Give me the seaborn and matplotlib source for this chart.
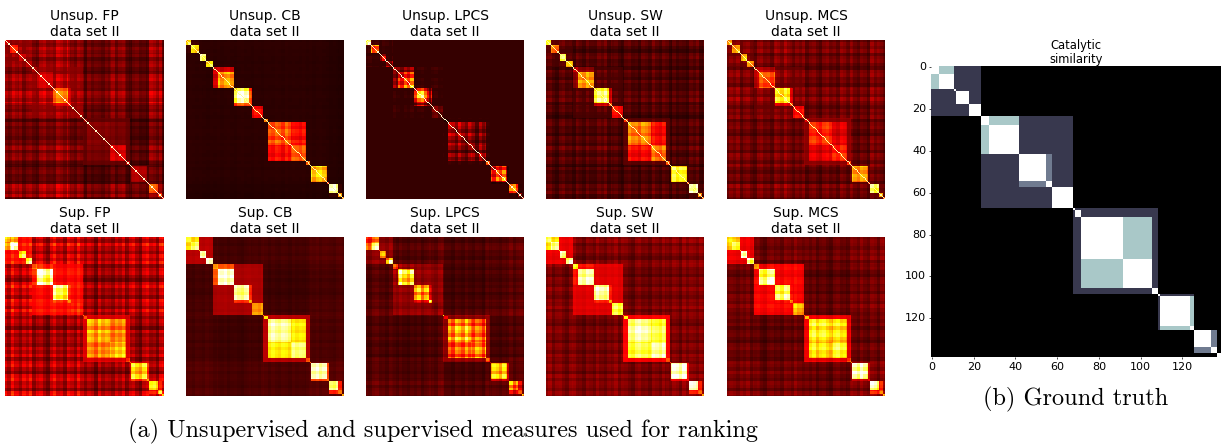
import numpy as np
import matplotlib
matplotlib.use("Agg")
import matplotlib.pyplot as plt
import seaborn as sns

# cluster sizes along the 139 enzymes
seg_sizes = [4, 7, 1, 6, 6, 4, 14, 13, 3, 10, 1, 3, 20, 14, 3, 1, 14, 2, 8, 3, 2]
seg_family = [0, 0, 0, 0, 0, 1, 1, 1, 1, 1, 2, 2, 2, 2, 2, 3, 3, 3, 4, 4, -1]
seg_pair = [0, 0, -1, -1, -1, 1, 1, 2, 2, -1, -1, -1, 3, 3, -1, -1, 4, 4, 5, 5, -1]

# hand read weave of the light and dark rows seen in the matrices
stripes = [1.0, 0.82, 1.12, 0.95, 1.2, 0.78, 1.05, 1.15, 0.88, 0.7, 1.1, 1.22, 0.92, 1.0,
           0.75, 1.18, 1.06, 0.85, 1.25, 0.96, 0.8, 1.14, 1.02, 0.72, 1.2, 0.9, 1.08]

truth_family = [0.25, 0.25, 0.25, 0.25, 0.0]
truth_pair = [0.75, 0.75, 0.5, 0.75, 0.75, 0.5]

titles = ["Unsup. FP", "Unsup. CB", "Unsup. LPCS", "Unsup. SW", "Unsup. MCS",
          "Sup. FP", "Sup. CB", "Sup. LPCS", "Sup. SW", "Sup. MCS"]

# one list of levels per panel: inside a cluster, inside a family, inside a pair of clusters, background
fp_u_within = [.3, .42, .5, .3, .25, .28, .3, .55, .35, .22, .3, .3, .18, .3, .3, .3, .24, .3, .48, .4, .3]
fp_u_family = [.2, .2, .14, .12, .1]
fp_u_pair = [.2, .22, .3, .16, .12, .2]
fp_u_load = [.2, .23, .18, .18, .18, .18, .22, .29, .15, .18, .12, .09, .1, .16, .09, .11, .08, .11, .23, .2, .05]

cb_u_within = [.72, .72, .5, .8, .75, .3, .6, .9, .5, .36, .55, .45, .5, .5, .5, .5, .68, .5, .85, .6, .6]
cb_u_family = [.05, .05, .05, .05, .04]
cb_u_pair = [.08, .3, .5, .38, .06, .06]
cb_u_load = [.055, .055, .05, .05, .05, .05, .05, .05, .05, .05, .05, .05, .055, .055, .05, .05, .05, .05, .035, .03, .03]

lp_u_within = [.55, .5, .35, .25, .2, .15, .42, .6, .3, .12, .4, .1, .2, .2, .4, .3, .4, .35, .45, .5, .4]
lp_u_family = [.065, .065, .065, .065, .065]
lp_u_pair = [.07, .15, .3, .16, .07, .1]
lp_u_load = [.065, .065, .065, .065, .065, .065, .065, .065, .065, .065, .065, .065, .065, .065, .065, .065, .065, .065, .065, .065, .065]

sw_u_within = [.7, .62, .5, .75, .7, .3, .58, .82, .55, .38, .5, .4, .55, .52, .5, .5, .75, .5, .85, .6, .5]
sw_u_family = [.1, .1, .12, .08, .08]
sw_u_pair = [.13, .2, .3, .36, .1, .1]
sw_u_load = [.12, .12, .11, .11, .11, .11, .09, .13, .12, .09, .11, .1, .1, .12, .11, .11, .08, .09, .12, .12, .09]

mc_u_within = [.6, .55, .5, .65, .6, .3, .48, .7, .5, .36, .45, .4, .42, .42, .45, .45, .6, .45, .78, .6, .5]
mc_u_family = [.15, .15, .2, .12, .1]
mc_u_pair = [.18, .28, .32, .32, .14, .14]
mc_u_load = [.17, .17, .16, .16, .16, .17, .16, .19, .16, .14, .15, .13, .13, .15, .13, .14, .12, .13, .17, .15, .1]

fp_s_within = [.72, .9, .5, .78, .78, .6, .95, .85, .5, .4, .6, .6, .62, .65, .5, .5, .72, .5, .8, .7, .6]
fp_s_family = [.38, .38, .33, .3, .3]
fp_s_pair = [.6, .48, .42, .55, .4, .4]
fp_s_load = [.32, .32, .3, .3, .3, .28, .24, .28, .26, .26, .28, .24, .18, .2, .24, .24, .24, .24, .26, .26, .3]

cb_s_within = [.8, .85, .6, .92, .92, .62, .95, .9, .6, .6, .55, .7, .9, .85, .5, .5, .92, .5, .9, .5, .6]
cb_s_family = [.26, .24, .26, .14, .12]
cb_s_pair = [.7, .5, .42, .72, .45, .4]
cb_s_load = [.1, .1, .1, .1, .1, .09, .07, .07, .08, .09, .1, .09, .08, .08, .1, .12, .12, .11, .12, .12, .1]

lp_s_within = [.55, .7, .5, .7, .75, .5, .72, .6, .7, .2, .55, .4, .6, .58, .4, .3, .68, .3, .55, .4, .6]
lp_s_family = [.2, .2, .2, .14, .12]
lp_s_pair = [.55, .22, .3, .5, .3, .3]
lp_s_load = [.13, .13, .12, .12, .12, .1, .09, .09, .12, .14, .12, .09, .08, .08, .1, .12, .1, .12, .14, .14, .14]

sw_s_within = [.8, .9, .6, .92, .92, .72, .92, .9, .6, .8, .55, .7, .92, .88, .5, .5, .95, .4, .95, .5, .6]
sw_s_family = [.34, .32, .36, .2, .18]
sw_s_pair = [.7, .38, .4, .8, .35, .4]
sw_s_load = [.19, .19, .18, .18, .18, .16, .14, .15, .16, .18, .18, .14, .15, .15, .18, .18, .18, .18, .2, .2, .18]

mc_s_within = [.72, .85, .6, .9, .88, .55, .88, .85, .6, .62, .6, .6, .75, .75, .5, .5, .9, .4, .9, .5, .6]
mc_s_family = [.34, .36, .34, .2, .18]
mc_s_pair = [.68, .35, .4, .7, .3, .4]
mc_s_load = [.17, .17, .16, .16, .16, .14, .12, .14, .15, .15, .16, .12, .11, .12, .14, .16, .16, .16, .18, .18, .2]

panels = [
    (fp_u_within, fp_u_family, fp_u_pair, fp_u_load),
    (cb_u_within, cb_u_family, cb_u_pair, cb_u_load),
    (lp_u_within, lp_u_family, lp_u_pair, lp_u_load),
    (sw_u_within, sw_u_family, sw_u_pair, sw_u_load),
    (mc_u_within, mc_u_family, mc_u_pair, mc_u_load),
    (fp_s_within, fp_s_family, fp_s_pair, fp_s_load),
    (cb_s_within, cb_s_family, cb_s_pair, cb_s_load),
    (lp_s_within, lp_s_family, lp_s_pair, lp_s_load),
    (sw_s_within, sw_s_family, sw_s_pair, sw_s_load),
    (mc_s_within, mc_s_family, mc_s_pair, mc_s_load),
]
bg_weave = [1.0, .2, .03, 1.2, 1.0, 1.2, .35, .7, .8, .8]
block_weave = [.4, .45, 1.6, .45, .45, .5, .2, .8, .25, .4]
weave_shift = [0, 5, 9, 13, 18, 3, 7, 11, 16, 21]
diag_level = [.95, .9, .95, .9, .9, 0, 0, 0, 0, 0]

seg_of = np.repeat(np.arange(len(seg_sizes)), seg_sizes)
family_of = np.array(seg_family)[seg_of]
pair_of = np.array(seg_pair)[seg_of]
# each stripe is about three rows wide
weave = np.resize(np.repeat(stripes, 3), len(seg_of))


def weave_grid(strength, shift):
    w = 1 + strength * (np.roll(weave, shift * 3) - 1)
    return np.outer(w, w)


def build_truth():
    m = np.zeros((len(seg_of), len(seg_of)))
    for k, level in enumerate(truth_family):
        m[np.ix_(family_of == k, family_of == k)] = level
    for k, level in enumerate(truth_pair):
        m[np.ix_(pair_of == k, pair_of == k)] = level
    m[seg_of[:, None] == seg_of[None, :]] = 1.0
    return m


def build_panel(i):
    within, family, pair, load = panels[i]
    lv = np.array(load)[seg_of]
    m = np.sqrt(np.outer(lv, lv)) * weave_grid(bg_weave[i], weave_shift[i])
    soft = weave_grid(block_weave[i] * 0.6, weave_shift[i])
    sharp = weave_grid(block_weave[i], weave_shift[i])
    for k, level in enumerate(family):
        mask = np.outer(family_of == k, family_of == k)
        m[mask] = np.maximum(m[mask], (level * soft)[mask])
    for k, level in enumerate(pair):
        mask = np.outer(pair_of == k, pair_of == k)
        m[mask] = (level * sharp)[mask]
    same = seg_of[:, None] == seg_of[None, :]
    m[same] = (np.array(within)[seg_of][:, None] * sharp)[same]
    if diag_level[i] > 0:
        np.fill_diagonal(m, diag_level[i])
    return m


W, H = 1225, 445
fig = plt.figure(figsize=(W / 100, H / 100), dpi=100)


def px_axes(x0, y0, x1, y1):
    return fig.add_axes([x0 / W, 1 - y1 / H, (x1 - x0) / W, (y1 - y0) / H])


col_x = [(5, 164), (186, 344), (366, 524), (546, 704), (727, 885)]
row_y = [(40, 199), (237, 396)]

for i, name in enumerate(titles):
    x0, x1 = col_x[i % 5]
    y0, y1 = row_y[i // 5]
    ax = px_axes(x0, y0, x1, y1)
    sns.heatmap(build_panel(i), ax=ax, cmap="hot", vmin=0, vmax=1, cbar=False,
                xticklabels=False, yticklabels=False)
    ax.set_title(name + "\ndata set II", fontsize=10, pad=3, linespacing=1.2)

ax = px_axes(931, 66, 1221, 357)
sns.heatmap(build_truth(), ax=ax, cmap="bone", vmin=0, vmax=1, cbar=False)
tick_vals = list(range(0, 140, 20))
ax.set_xticks([t + 0.5 for t in tick_vals])
ax.set_xticklabels(tick_vals, rotation=0, fontsize=8)
ax.set_yticks([t + 0.5 for t in tick_vals])
ax.set_yticklabels(tick_vals, rotation=0, fontsize=8)
ax.tick_params(length=1.5, width=0.5, pad=2)
ax.set_title("Catalytic\nsimilarity", fontsize=8.3, pad=1, linespacing=1.05)

fig.text(128 / W, 1 - 431 / H, "(a) Unsupervised and supervised measures used for ranking",
         family="cmr10", fontsize=17.5, va="center", ha="left")
fig.text(1075.5 / W, 1 - 399 / H, "(b) Ground truth",
         family="cmr10", fontsize=17.5, va="center", ha="center")

fig.savefig("out.png", dpi=100)
